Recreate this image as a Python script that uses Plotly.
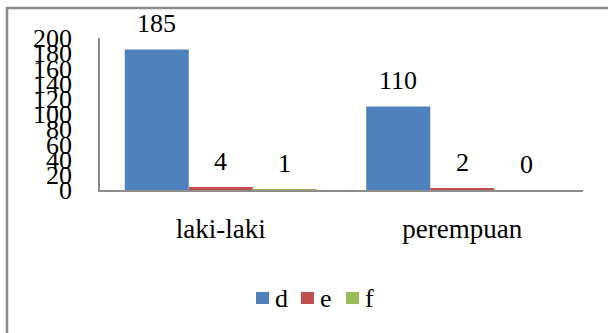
import plotly.graph_objects as go

categories = ["laki-laki", "perempuan"]
series_names = ["d", "e", "f"]
d_values = [185, 110]
e_values = [4, 2]
f_values = [1, 0]
y_ticks = list(range(0, 201, 20))

colors = {"d": "#4F81BD", "e": "#C0504D", "f": "#9BBB59"}
FONT = "Liberation Serif"
W, H = 608, 333
ML, MR, MT, MB = 100, 25, 38, 143
BARGAP = 0.205

fig = go.Figure()
all_vals = [d_values, e_values, f_values]
for name, vals in zip(series_names, all_vals):
    fig.add_trace(go.Bar(
        x=categories, y=vals, name=name, showlegend=False,
        marker=dict(color=colors[name], line=dict(width=0)),
    ))

# value labels above bars
bw = (1 - BARGAP) / len(series_names)
for k, vals in enumerate(all_vals):
    off = (k - (len(series_names) - 1) / 2) * bw
    for i, v in enumerate(vals):
        fig.add_annotation(x=i + off, y=v, xref="x", yref="y", text=str(v),
                           showarrow=False, yanchor="bottom", yshift=9,
                           font=dict(family=FONT, size=26, color="black"))

pw = W - ML - MR
ph = H - MT - MB


def px_x(p):
    return (p - ML) / pw


def px_y(p):
    return (MT + ph - p) / ph


# chart border
fig.add_shape(type="rect", xref="paper", yref="paper",
              x0=px_x(7), x1=2, y0=-3, y1=px_y(8),
              line=dict(color="#8c8c8c", width=2.5), fillcolor="rgba(0,0,0,0)", layer="below")

# legend (drawn manually for Excel-like compact spacing)
LEG_X0, LEG_STEP, LEG_Y = 256, 45, 298
for k, name in enumerate(series_names):
    sx = LEG_X0 + k * LEG_STEP
    fig.add_shape(type="rect", xref="paper", yref="paper",
                  x0=px_x(sx), x1=px_x(sx + 13), y0=px_y(LEG_Y + 6), y1=px_y(LEG_Y - 6),
                  line=dict(width=0), fillcolor=colors[name])
    fig.add_annotation(xref="paper", yref="paper", x=px_x(sx + 17), y=px_y(LEG_Y),
                       text=name, showarrow=False, xanchor="left", yanchor="middle",
                       font=dict(family=FONT, size=26, color="black"))

fig.update_layout(
    width=W, height=H,
    margin=dict(l=ML, r=MR, t=MT, b=MB, pad=0),
    paper_bgcolor="white", plot_bgcolor="white",
    barmode="group", bargap=BARGAP, bargroupgap=0,
    font=dict(family=FONT, size=26, color="black"),
    showlegend=False,
    xaxis=dict(showline=True, linecolor="#8c8c8c", linewidth=1.5, showgrid=False,
               ticks="", ticklabelstandoff=14, zeroline=False,
               tickfont=dict(family=FONT, size=27, color="black")),
    yaxis=dict(range=[0, 200], tickmode="array", tickvals=y_ticks,
               ticktext=[str(t) for t in y_ticks],
               showline=True, linecolor="#8c8c8c", linewidth=1.5, showgrid=False,
               zeroline=False, ticks="", ticklabelstandoff=21,
               tickfont=dict(family=FONT, size=26, color="black")),
)

fig.write_html("out.html")
